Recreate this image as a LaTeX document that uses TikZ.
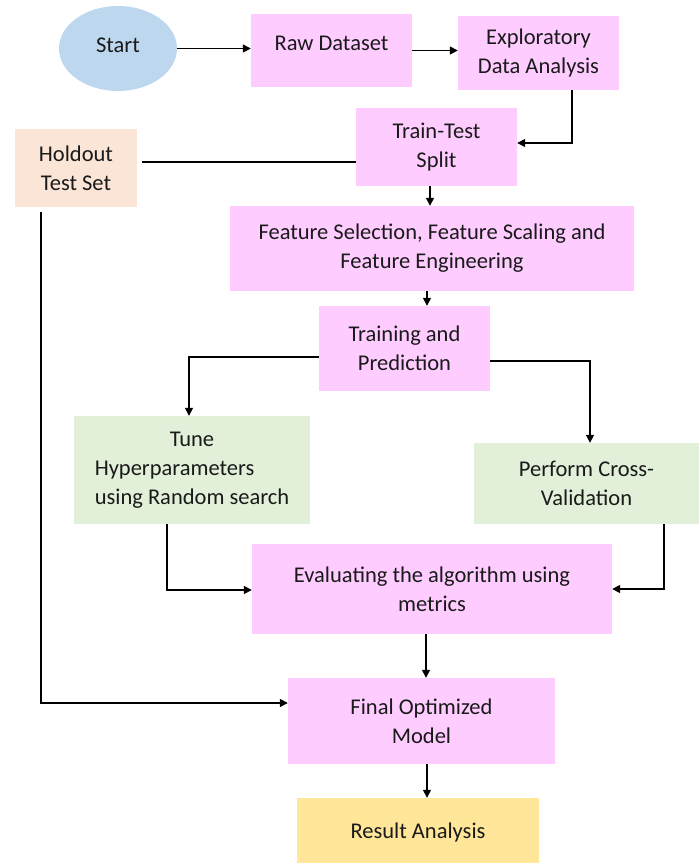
\documentclass[tikz,border=0pt]{standalone}
\usepackage{fontspec}
\usepackage{calc}
\setmainfont{Carlito}
\usetikzlibrary{arrows.meta,shapes.geometric}

\definecolor{ink}{HTML}{1A1A1A}
\definecolor{pinkfill}{HTML}{FFCCFF}
\definecolor{bluefill}{HTML}{BDD7EE}
\definecolor{peachfill}{HTML}{FBE5D6}
\definecolor{greenfill}{HTML}{E2F0D9}
\definecolor{yellowfill}{HTML}{FFE699}

\tikzset{
  boxbase/.style={rectangle, inner sep=0pt, align=center, text=ink,
    font=\fontsize{22.5}{29}\selectfont},
  pinkbox/.style={boxbase, fill=pinkfill},
  greenbox/.style={boxbase, fill=greenfill},
  peachbox/.style={boxbase, fill=peachfill},
  yellowbox/.style={boxbase, fill=yellowfill},
  startshape/.style={ellipse, inner sep=0pt, fill=bluefill, text=ink,
    font=\fontsize{22.5}{29}\selectfont},
  link/.style={draw=black, line width=1.5pt},
  arr/.style={link, -{Triangle[length=8pt,width=8pt]}}
}

\begin{document}
\begin{tikzpicture}[x=1pt,y=-1pt]
\useasboundingbox (0,0) rectangle (699,863);

% process blocks
\node[startshape, minimum width=118pt, minimum height=85pt] (start) at (118,48.5) {\raisebox{7pt}{Start}};
\node[pinkbox, minimum width=161pt, minimum height=73pt] (raw) at (331.5,50.5) {\raisebox{15pt}{Raw Dataset}};
\node[pinkbox, minimum width=161pt, minimum height=74pt] (eda) at (538.5,53) {Exploratory\\Data Analysis};
\node[pinkbox, minimum width=161pt, minimum height=78pt] (tts) at (436.5,147) {Train-Test\\Split};
\node[peachbox, minimum width=122pt, minimum height=78pt] (hold) at (76,168) {Holdout\\Test Set};
\node[pinkbox, minimum width=404pt, minimum height=85pt] (feat) at (432,248.5) {Feature Selection, Feature Scaling and\\Feature Engineering};
\node[pinkbox, minimum width=171pt, minimum height=85pt] (train) at (404.5,348.5) {Training and\\Prediction};
\node[greenbox, minimum width=236pt, minimum height=108pt, align=left] (tune) at (192,470)
  {\makebox[\widthof{using Random search}][c]{Tune}\\Hyperparameters\\using Random search};
\node[greenbox, minimum width=225pt, minimum height=81pt] (cv) at (586.5,483.5) {Perform Cross-\\Validation};
\node[pinkbox, minimum width=360pt, minimum height=90pt] (eval) at (432,589) {Evaluating the algorithm using\\metrics};
\node[pinkbox, minimum width=267pt, minimum height=86pt] (final) at (421.5,721) {Final Optimized\\Model};
\node[yellowbox, minimum width=242pt, minimum height=68pt] (result) at (418,832) {Result Analysis};

% connectors
\draw[arr] (start.east) -- (start.east -| raw.west);
\draw[arr] (raw.east) -- (raw.east -| eda.west);

\coordinate (edadown) at ([xshift=33.5pt]eda.south);
\draw[arr] (edadown) |- ([yshift=4pt]tts.east);

\coordinate (holdright) at ([xshift=5pt,yshift=6pt]hold.east);
\draw[link] (holdright) -- (holdright -| tts.west);

\coordinate (ttsdown) at ([xshift=-6.5pt]tts.south);
\draw[arr] (ttsdown) -- (ttsdown |- feat.north);

\coordinate (featdown) at ([xshift=-5pt]feat.south);
\draw[arr] (featdown) -- (featdown |- train.north);

\coordinate (trainleft) at ([yshift=-8.5pt]train.west);
\draw[arr] (trainleft) -| ([xshift=-3pt]tune.north);

\coordinate (trainright) at ([yshift=-12.5pt]train.east);
\draw[arr] (trainright) -| ([xshift=3.5pt]cv.north);

\coordinate (tunedown) at ([xshift=-25pt]tune.south);
\draw[arr] (tunedown) |- ([yshift=-1pt]eval.west);

\coordinate (cvdown) at ([xshift=77.5pt]cv.south);
\draw[arr] (cvdown) |- (eval.east);

\coordinate (evaldown) at ([xshift=-6pt]eval.south);
\draw[arr] (evaldown) -- (evaldown |- final.north);

\coordinate (finaldown) at ([xshift=5.5pt]final.south);
\draw[arr] (finaldown) -- (finaldown |- result.north);

\coordinate (holddown) at ([xshift=-35pt,yshift=-5pt]hold.south);
\draw[arr] (holddown) |- ([yshift=18pt]final.west);
\end{tikzpicture}
\end{document}
